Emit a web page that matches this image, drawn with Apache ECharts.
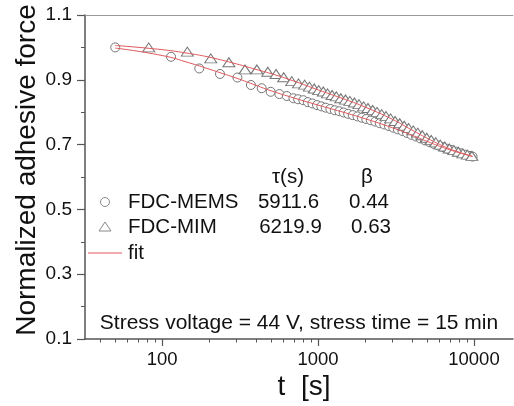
<!DOCTYPE html>
<html><head><meta charset="utf-8">
<script src="https://cdn.jsdelivr.net/npm/echarts@6/dist/echarts.min.js"></script>
<style>html,body{margin:0;padding:0;background:#fff}#c{width:514px;height:406px}</style>
</head><body><div id="c"></div>
<script>
// ---- data ----
const memsT = [50,114,173,235,304,371,435,497,565,630,695,745,805,860,920,985,1050,1120,1200,1280,1370,1460,1560,1670,1790,1910,2040,2180,2330,2490,2660,2850,3040,3250,3480,3720,3970,4250,4540,4850,5180,5540,5920,6330,6760,7230,7720,8260,8820,9430,9800];
const memsV = [1.000,0.971,0.935,0.918,0.907,0.884,0.874,0.863,0.856,0.850,0.843,0.840,0.837,0.831,0.827,0.822,0.818,0.814,0.810,0.806,0.803,0.799,0.795,0.791,0.787,0.783,0.779,0.775,0.771,0.766,0.762,0.757,0.752,0.747,0.742,0.736,0.730,0.725,0.719,0.713,0.708,0.702,0.697,0.692,0.687,0.683,0.678,0.673,0.669,0.665,0.663];
const mimT = [82,145,205,268,340,405,476,538,602,678,749,820,880,945,1010,1080,1150,1230,1310,1400,1500,1600,1710,1830,1960,2090,2240,2390,2560,2730,2920,3120,3340,3570,3810,4080,4360,4660,4980,5320,5690,6080,6500,6950,7430,7940,8490,9070,9700];
const mimV = [1.000,0.987,0.966,0.954,0.932,0.932,0.925,0.918,0.908,0.896,0.889,0.885,0.879,0.873,0.868,0.864,0.858,0.853,0.849,0.843,0.839,0.835,0.830,0.825,0.818,0.813,0.807,0.801,0.794,0.788,0.781,0.773,0.766,0.758,0.751,0.744,0.737,0.729,0.721,0.714,0.707,0.700,0.694,0.688,0.683,0.678,0.673,0.669,0.665];
const fitT = [50,100,150,200,300,400,500,700,1000,1500,2000,3000,4000,5000,6000,7000,8000,9000,9800];
const fitMemsV = [0.998,0.975,0.952,0.933,0.905,0.883,0.866,0.844,0.822,0.798,0.780,0.752,0.729,0.710,0.695,0.684,0.675,0.668,0.663];
const fitMimV = [1.006,0.993,0.981,0.970,0.949,0.932,0.919,0.896,0.869,0.839,0.816,0.778,0.745,0.720,0.701,0.687,0.677,0.669,0.664];
const legendNames = ['FDC-MEMS','FDC-MIM','fit'];
const tauVals = ['5911.6','6219.9'];
const betaVals = ['0.44','0.63'];
const xMajor = [100,1000,10000];
const xMinor = [40,50,60,70,80,90,200,300,400,500,600,700,800,900,2000,3000,4000,5000,6000,7000,8000,9000];
const yMajor = [0.1,0.3,0.5,0.7,0.9,1.1];
const yMinor = [0.2,0.4,0.6,0.8,1.0];

const zip = (a,b) => a.map((v,i)=>[v,b[i]]);
const FONT = 'Liberation Sans, Arial, sans-serif';
const AX = '#555';
const MK = '#767676';
const RED = '#e0585c';
const LF = 20.5;
const TXT = '#111';

const txt = (text, x, y, size, align, extra) => Object.assign({type:'text', x:x, y:y, silent:true,
  style:{text:text, font:size+'px '+FONT, fill:TXT, textAlign:align||'center', textVerticalAlign:'middle'}}, extra||{});

const chart = echarts.init(document.getElementById('c'), null, {renderer:'canvas'});
const xBase = {type:'log', logBase:10, min:32, max:17800, gridIndex:0, splitLine:{show:false}, minorTick:{show:false}, minorSplitLine:{show:false}};
const yBase = {type:'value', min:0.1, max:1.1, gridIndex:0, splitLine:{show:false}, minorTick:{show:false}};
const rowY = [202, 227, 253];
chart.setOption({
  animation:false,
  backgroundColor:'#fff',
  grid:{left:85, right:1, top:15, bottom:67, outerBoundsMode:'none', containLabel:false},
  xAxis:[
    Object.assign({}, xBase, {position:'bottom',
      axisLine:{show:true, lineStyle:{color:AX, width:1.5}},
      axisTick:{show:true, customValues:xMajor, length:7, inside:false, lineStyle:{color:AX, width:1.2}},
      axisLabel:{show:true, customValues:xMajor, margin:11, fontSize:18.5, fontFamily:FONT, color:TXT, formatter:v=>String(Math.round(v))}}),
    Object.assign({}, xBase, {position:'bottom',
      axisLine:{show:false},
      axisTick:{show:true, customValues:xMinor, length:3.5, inside:false, lineStyle:{color:AX, width:1}},
      axisLabel:{show:false}}),
    Object.assign({}, xBase, {position:'top',
      axisLine:{show:true, lineStyle:{color:'#9a9a9a', width:1}},
      axisTick:{show:false}, axisLabel:{show:false}})
  ],
  yAxis:[
    Object.assign({}, yBase, {position:'left',
      axisLine:{show:true, lineStyle:{color:AX, width:1.5}},
      axisTick:{show:true, customValues:yMajor, length:8, inside:false, lineStyle:{color:AX, width:1.2}},
      axisLabel:{show:true, customValues:yMajor, margin:13, fontSize:19, fontFamily:FONT, color:TXT, formatter:v=>v.toFixed(1)}}),
    Object.assign({}, yBase, {position:'left',
      axisLine:{show:false},
      axisTick:{show:true, customValues:yMinor, length:4, inside:false, lineStyle:{color:AX, width:1}},
      axisLabel:{show:false}})
  ],
  graphic:[
    txt('Normalized adhesive force', 27, 170, 28, 'center', {rotation:Math.PI/2}),
    txt('t  [s]', 304, 387, 28),
    txt('Stress voltage = 44 V, stress time = 15 min', 299, 323, 21),
    txt('\u03c4(s)', 288, 177, LF),
    txt('\u03b2', 367, 177, LF),
    {type:'circle', silent:true, shape:{cx:105, cy:rowY[0], r:4.5}, style:{fill:'#fff', stroke:'#888', lineWidth:1}},
    {type:'polygon', silent:true, shape:{points:[[99,rowY[1]+4],[105,rowY[1]-5],[111,rowY[1]+4]]}, style:{fill:'#fff', stroke:'#888', lineWidth:1}},
    {type:'line', silent:true, shape:{x1:88, y1:rowY[2], x2:122, y2:rowY[2]}, style:{stroke:RED, lineWidth:1}},
    txt(legendNames[0], 128, rowY[0], LF, 'left'),
    txt(tauVals[0], 288.5, rowY[0], LF),
    txt(betaVals[0], 369, rowY[0], LF),
    txt(legendNames[1], 128, rowY[1], LF, 'left'),
    txt(tauVals[1], 290.5, rowY[1], LF),
    txt(betaVals[1], 371, rowY[1], LF),
    txt(legendNames[2], 128, rowY[2], LF, 'left')
  ],
  series:[
    {name:'FDC-MEMS', type:'scatter', xAxisIndex:0, yAxisIndex:0, symbol:'circle', symbolSize:9, z:2,
      itemStyle:{color:'#fff', borderColor:MK, borderWidth:1, opacity:1}, data:zip(memsT, memsV)},
    {name:'FDC-MIM', type:'scatter', xAxisIndex:0, yAxisIndex:0, symbol:'triangle', symbolSize:[12,9], z:3,
      itemStyle:{color:'#fff', borderColor:MK, borderWidth:1, opacity:1}, data:zip(mimT, mimV)},
    {name:'fit', type:'line', xAxisIndex:0, yAxisIndex:0, symbol:'none', smooth:true, z:4,
      lineStyle:{color:RED, width:1}, itemStyle:{color:RED}, data:zip(fitT, fitMemsV)},
    {name:'fit', type:'line', xAxisIndex:0, yAxisIndex:0, symbol:'none', smooth:true, z:4,
      lineStyle:{color:RED, width:1}, itemStyle:{color:RED}, data:zip(fitT, fitMimV)}
  ]
});
</script>
</body></html>
